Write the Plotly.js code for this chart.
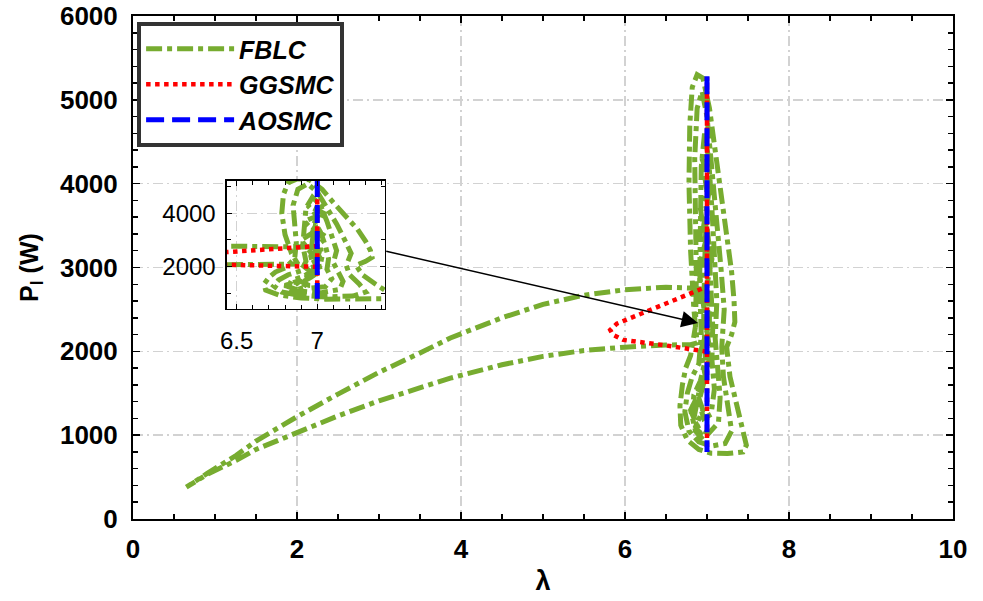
<!DOCTYPE html>
<html>
<head>
<meta charset="utf-8">
<script src="https://cdn.plot.ly/plotly-3.0.1.min.js"></script>
<style>
  html, body { margin: 0; padding: 0; background: #ffffff; }
  #chart { width: 983px; height: 601px; }
</style>
</head>
<body>
<div id="chart"></div>
<script>
// Tip-speed ratio (lambda) vs. load power P_l for three controllers.

// FBLC: upper branch (from start-up point), lower branch, then the oscillation around lambda = 7
const fblcLambda = [
  6.95, 6.80, 6.50, 6.00, 5.50, 5.00, 4.50, 4.00, 3.87, 3.50, 3.00, 2.50, 2.00, 1.50, 1.26, 0.90, 0.65,
  0.90, 1.26, 1.50, 2.00, 2.50, 3.00, 3.50, 3.87, 4.50, 5.00, 5.50, 6.00, 6.50, 6.80,
  6.88, 6.84, 6.80, 6.78, 6.79, 6.82, 6.88, 6.95, 7.03, 7.10, 7.18, 7.25, 7.30, 7.33, 7.34, 7.30,
  7.24, 7.28, 7.36, 7.44, 7.48, 7.44, 7.25, 7.05, 6.90, 6.76, 6.68, 6.67, 6.70, 6.74, 6.80,
  6.86, 6.87, 6.86, 6.85, 6.88, 6.94, 7.00, 7.06, 7.12, 7.17, 7.21, 7.18, 7.20, 7.26, 7.30,
  7.22, 7.05, 6.90, 6.78, 6.73, 6.76, 6.82, 6.90, 6.93, 6.91, 6.92, 6.93, 6.97, 7.02, 7.06,
  7.09, 7.12, 7.10, 7.13, 7.16, 7.14, 7.02, 6.90, 6.82, 6.84, 6.92, 6.98, 6.96, 6.97, 6.99,
  7.02, 7.05, 7.07, 7.06, 7.09, 7.05, 6.96, 6.90, 6.96, 7.02, 7.00, 7.02, 7.03, 7.02,
  6.95, 6.90, 6.98, 6.92, 7.00, 6.94, 7.04, 6.96, 7.06, 6.98, 7.02, 6.92, 6.98, 6.88, 6.95,
  6.86, 6.93, 6.84, 6.90, 6.80, 6.86, 6.95
];
const fblcPower = [
  2740, 2755, 2765, 2735, 2670, 2560, 2400, 2210, 2160, 1980, 1750, 1490, 1220, 930, 760, 540, 380,
  530, 700, 830, 1030, 1230, 1410, 1570, 1680, 1840, 1940, 2010, 2050, 2075, 2080,
  2100, 2500, 3200, 4000, 4700, 5150, 5300, 5260, 4900, 4400, 3900, 3400, 2950, 2600, 2350, 2200,
  2050, 1700, 1350, 1050, 880, 800, 780, 785, 830, 940, 1120, 1350, 1600, 1800, 1950,
  2300, 2900, 3600, 4300, 4900, 5100, 4800, 4200, 3600, 3000, 2500, 2050, 1700, 1350, 1050,
  900, 870, 920, 1050, 1280, 1500, 1700, 1850, 2200, 2800, 3500, 4200, 4600, 4300, 3700,
  3100, 2600, 2150, 1800, 1450, 1150, 1020, 1080, 1250, 1480, 1650, 1900, 2400, 3000, 3600,
  3300, 2800, 2300, 1900, 1550, 1250, 1200, 1400, 1600, 1850, 2300, 2700, 2400, 2100,
  2600, 3000, 3300, 3700, 3900, 4300, 4000, 3500, 3100, 2700, 2300, 2000, 1700, 1500, 1300,
  1100, 1000, 1200, 1500, 1300, 1050, 950
];

// GGSMC: excursion to the left, then the vertical swing at lambda = 7
const ggsmcLambda = [7.00, 6.87, 6.46, 5.98, 5.85, 5.82, 5.90, 6.26, 6.67, 7.00, 7.00, 7.00];
const ggsmcPower  = [1996, 2017, 2076, 2136, 2200, 2255, 2330, 2474, 2637, 2772, 5270, 800];

// AOSMC: held at lambda = 7 over the whole power range
const aosmcLambda = [7.00, 7.00, 7.00, 7.00, 7.00];
const aosmcPower  = [5280, 4000, 2770, 2000, 800];

const seriesNames = ['FBLC', 'GGSMC', 'AOSMC'];
const xTickVals = [0, 2, 4, 6, 8, 10];
const yTickVals = [0, 1000, 2000, 3000, 4000, 5000, 6000];
const insetXTicks = [6.5, 7];
const insetYTicks = [2000, 4000];

const GREEN = '#77AC30', RED = '#FF0000', BLUE = '#0000FF';
const styles = [
  { color: GREEN, width: 5, dash: '16px,5px,5px,5px' },
  { color: RED, width: 4.5, dash: '4.5px,4.5px' },
  { color: BLUE, width: 5, dash: '18px,8px' }
];
const xs = [fblcLambda, ggsmcLambda, aosmcLambda];
const ys = [fblcPower, ggsmcPower, aosmcPower];

const traces = [];
for (let i = 0; i < 3; i++) {
  traces.push({
    x: xs[i], y: ys[i], type: 'scatter', mode: 'lines', name: seriesNames[i],
    line: styles[i], xaxis: 'x', yaxis: 'y', hoverinfo: 'skip'
  });
}
// the same three curves again in the zoomed inset
for (let i = 0; i < 3; i++) {
  traces.push({
    x: xs[i], y: ys[i], type: 'scatter', mode: 'lines', name: seriesNames[i],
    line: styles[i], xaxis: 'x2', yaxis: 'y2', showlegend: false, hoverinfo: 'skip'
  });
}

const FONT = 'Liberation Sans, Arial, sans-serif';
const gridStyle = { showgrid: true, gridcolor: '#d2d2d2', gridwidth: 1.5, griddash: '10px,4px,2px,4px' };

const layout = {
  width: 983, height: 601,
  margin: { l: 133, r: 30, t: 16, b: 82 },
  paper_bgcolor: '#ffffff', plot_bgcolor: '#ffffff',
  showlegend: true,
  xaxis: Object.assign({
    domain: [0, 1], range: [0, 10], tickvals: xTickVals,
    showline: true, linecolor: '#000', linewidth: 2, mirror: 'allticks',
    ticks: 'inside', ticklen: 7, tickwidth: 1.5, tickcolor: '#000',
    minor: { dtick: 0.5, ticks: 'inside', ticklen: 5, tickwidth: 1.5, tickcolor: '#000', showgrid: false },
    zeroline: false, ticklabelstandoff: 6,
    tickfont: { family: FONT, size: 26, weight: 'bold', color: '#000' },
    title: { text: 'λ', font: { family: FONT, size: 27, weight: 'bold', color: '#000' }, standoff: 8 }
  }, gridStyle),
  yaxis: Object.assign({
    domain: [0, 1], range: [0, 6000], tickvals: yTickVals,
    showline: true, linecolor: '#000', linewidth: 2, mirror: 'allticks',
    ticks: 'inside', ticklen: 7, tickwidth: 1.5, tickcolor: '#000',
    minor: { dtick: 200, ticks: 'inside', ticklen: 5, tickwidth: 1.5, tickcolor: '#000', showgrid: false },
    zeroline: false, ticklabelstandoff: 8,
    tickfont: { family: FONT, size: 26, weight: 'bold', color: '#000' },
    title: { text: 'P<sub>l</sub> (W)', font: { family: FONT, size: 25, weight: 'bold', color: '#000' }, standoff: 14 }
  }, gridStyle),
  xaxis2: Object.assign({
    domain: [0.1146, 0.3073], anchor: 'y2', range: [6.44, 7.42], tickvals: insetXTicks,
    showline: true, linecolor: '#000', linewidth: 1.5, mirror: 'allticks',
    ticks: 'inside', ticklen: 5, tickwidth: 1, tickcolor: '#000',
    minor: { dtick: 0.1, ticks: 'inside', ticklen: 4, tickwidth: 1, tickcolor: '#000', showgrid: false },
    zeroline: false, ticklabelstandoff: 10,
    tickfont: { family: FONT, size: 24, color: '#000' }
  }, gridStyle),
  yaxis2: Object.assign({
    domain: [0.4175, 0.672], anchor: 'x2', range: [416, 5210], tickvals: insetYTicks,
    showline: true, linecolor: '#000', linewidth: 1.5, mirror: 'allticks',
    ticks: 'inside', ticklen: 5, tickwidth: 1, tickcolor: '#000',
    minor: { dtick: 1000, ticks: 'inside', ticklen: 4, tickwidth: 1, tickcolor: '#000', showgrid: false },
    zeroline: false, ticklabelstandoff: 5,
    tickfont: { family: FONT, size: 24, color: '#000' }
  }, gridStyle),
  legend: {
    x: 0.005, y: 0.988, xanchor: 'left', yanchor: 'top',
    bgcolor: '#ffffff', bordercolor: '#333333', borderwidth: 4,
    itemwidth: 88, tracegroupgap: 0,
    font: { family: FONT, size: 25, weight: 'bold', style: 'italic', color: '#000' }
  },
  annotations: [{
    x: 6.89, y: 2339, ax: 3.07, ay: 3198, xref: 'x', yref: 'y', axref: 'x', ayref: 'y',
    showarrow: true, arrowhead: 2, arrowsize: 2.2, arrowwidth: 1.5, arrowcolor: '#000', text: ''
  }]
};

Plotly.newPlot('chart', traces, layout, { staticPlot: true, displayModeBar: false });
</script>
</body>
</html>
